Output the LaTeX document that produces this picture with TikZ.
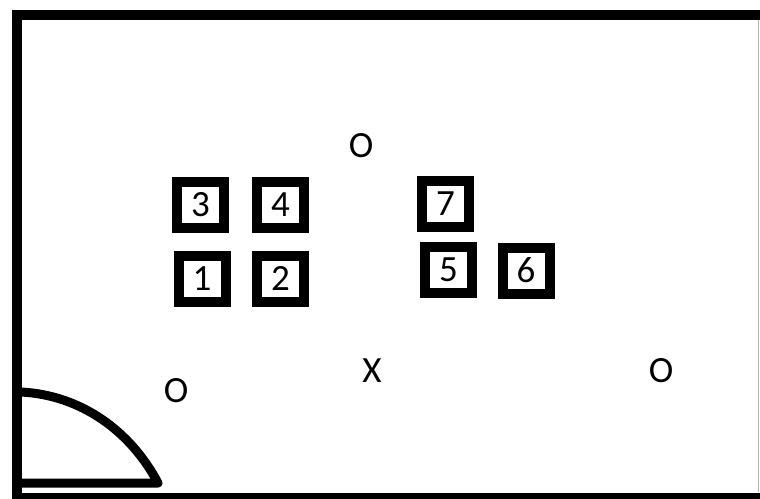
\documentclass[tikz,border=0pt]{standalone}
\usepackage{fontspec}
\setmainfont{Carlito}
\begin{document}
\begin{tikzpicture}[x=1pt,y=-1pt,
  seat/.style={draw=black,line width=10pt,fill=white,inner sep=0pt,
    minimum width=47pt,minimum height=46pt,
    font=\fontsize{37}{40}\selectfont},
  player/.style={inner sep=0pt,font=\fontsize{37}{40}\selectfont},
  wall/.style={line width=10pt,draw=black},
  door/.style={line width=9pt,draw=black,line cap=round,line join=round}]
\useasboundingbox (0,0) rectangle (760,498);
\fill[white] (0,0) rectangle (760,498);
\begin{scope}
\clip (0,0) rectangle (760,498);
% room walls
\draw[wall,line cap=rect] (16.5,499) -- (16.5,15) -- (765,15);
\draw[line width=8pt,draw=black] (12,497) -- (765,497);
\draw[line width=1.5pt,draw=black!30] (758.5,20) -- (758.5,492);
% door
\draw[door] (21,392) .. controls (80,395) and (130,430) .. (158,483) -- (21,483);
\end{scope}
% seats
\node[seat] (s3) at (200.5,205) {3};
\node[seat] (s4) at (280.5,204.5) {4};
\node[seat] (s1) at (202,278.5) {1};
\node[seat] (s2) at (280.5,278.5) {2};
\node[seat] (s7) at (445.5,204) {7};
\node[seat] (s5) at (448.5,269.5) {5};
\node[seat] (s6) at (526,270.5) {6};
% marks
\node[player] (o1) at (361,146) {O};
\node[player] (x1) at (372,371) {X};
\node[player] (o2) at (176,391) {O};
\node[player] (o3) at (661,371) {O};
\end{tikzpicture}
\end{document}
